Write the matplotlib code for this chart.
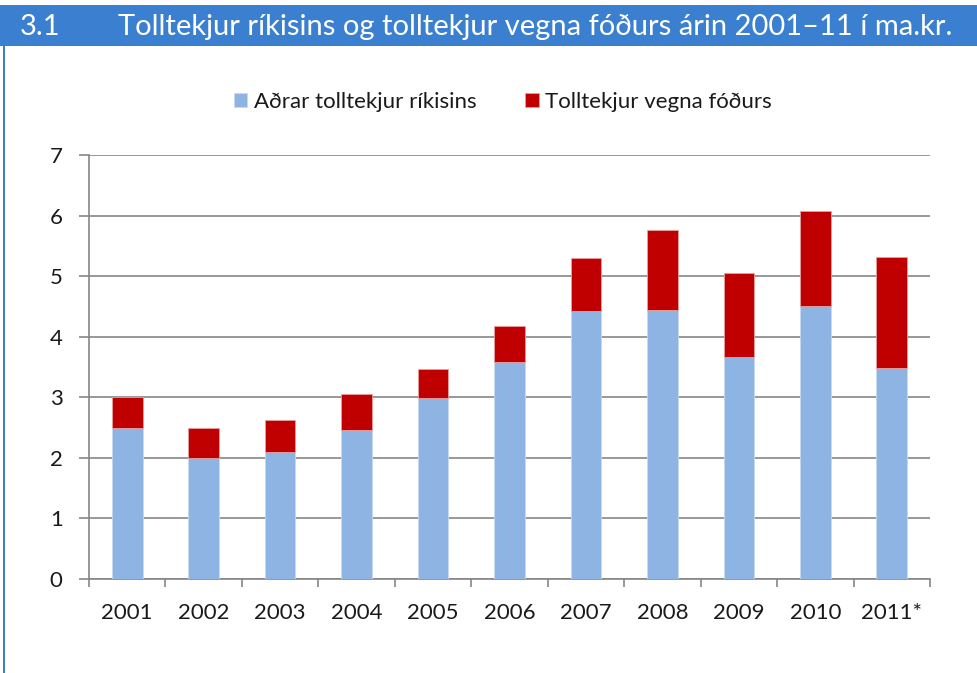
import matplotlib.pyplot as plt
import numpy as np
from matplotlib.patches import Rectangle

plt.rcParams["font.family"] = ["Lato", "DejaVu Sans"]

years = ["2001", "2002", "2003", "2004", "2005", "2006", "2007", "2008", "2009", "2010", "2011*"]
other_revenue = [2.49, 2.00, 2.09, 2.46, 2.99, 3.58, 4.43, 4.44, 3.67, 4.50, 3.49]
total_revenue = [3.00, 2.50, 2.62, 3.06, 3.47, 4.17, 5.30, 5.76, 5.05, 6.08, 5.31]
feed_revenue = [t - o for t, o in zip(total_revenue, other_revenue)]

BLUE = "#8eb4e3"
RED = "#c00000"
HEADER = "#3b7fd1"
GRID = "#868686"
TEXT = "#1a1a1a"

W, H = 978, 673
fig = plt.figure(figsize=(W / 100, H / 100), dpi=100)
fig.patch.set_facecolor("white")

# header bar + left rule
fig.patches.append(Rectangle((0, 1 - 46 / H), 1, 41 / H, transform=fig.transFigure,
                             facecolor=HEADER, edgecolor="none", zorder=0))
fig.patches.append(Rectangle((3 / W, 0), 2 / W, 1 - 46 / H, transform=fig.transFigure,
                             facecolor=HEADER, edgecolor="none", zorder=0))
fig.text(20 / W, 1 - 27 / H, "3.1", color="white", fontsize=21, va="center", ha="left")
fig.text(118 / W, 1 - 27 / H, "Tolltekjur ríkisins og tolltekjur vegna fóðurs árin 2001–11 í ma.kr.",
         color="white", fontsize=21, va="center", ha="left")

ax = fig.add_axes([89 / W, (H - 579) / H, (930 - 89) / W, (579 - 155) / H])
x = np.arange(len(years))
b1 = ax.bar(x, other_revenue, width=0.4, color=BLUE, edgecolor="#c6d9f1", linewidth=0.6,
            label="Aðrar tolltekjur ríkisins", zorder=3)
b2 = ax.bar(x, feed_revenue, bottom=other_revenue, width=0.4, color=RED, edgecolor="#e8a0a0",
            linewidth=0.6, label="Tolltekjur vegna fóðurs", zorder=3)

ax.set_xlim(-0.5, len(years) - 0.5)
ax.set_ylim(0, 7)
ax.set_yticks(range(8))
ax.yaxis.grid(True, color=GRID, linewidth=1.2)
ax.set_axisbelow(True)
ax.set_xticks(x)
ax.set_xticklabels(years)
ax.set_xticks(np.arange(-0.5, len(years)), minor=True)
ax.tick_params(axis="x", which="major", length=0, pad=17, labelsize=16, labelcolor=TEXT)
ax.tick_params(axis="x", which="minor", length=6, color=GRID, width=1.2)
ax.tick_params(axis="y", length=7, color=GRID, width=1.2, pad=12, labelsize=16, labelcolor=TEXT)
for side in ["top", "right"]:
    ax.spines[side].set_visible(False)
for side in ["left", "bottom"]:
    ax.spines[side].set_color(GRID)
    ax.spines[side].set_linewidth(1.2)

leg = fig.legend(handles=[b1, b2], loc="center", bbox_to_anchor=(503 / W, 1 - 102 / H), ncol=2,
                 frameon=False, fontsize=16, handlelength=0.6, handleheight=0.6,
                 handletextpad=0.3, columnspacing=2.2)
for t in leg.get_texts():
    t.set_color(TEXT)

fig.savefig("out.png", dpi=100)
